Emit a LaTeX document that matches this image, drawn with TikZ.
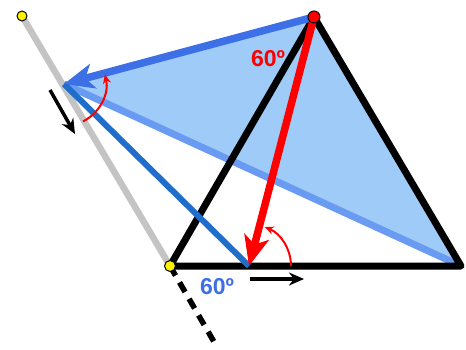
\documentclass[tikz,border=0pt]{standalone}
\usepackage{fontspec}
\setmainfont{Liberation Sans}
\usetikzlibrary{arrows.meta}
\definecolor{relleno}{HTML}{9ECBF8}
\definecolor{azul}{HTML}{3D6FE6}
\definecolor{azulclaro}{HTML}{6A9BF2}
\definecolor{azuloscuro}{HTML}{1F6ECC}
\definecolor{gris}{HTML}{C4C4C4}

\begin{document}
\begin{tikzpicture}[x=1pt,y=1pt,
    punto/.style={draw=black,line width=1pt},
    flechagrande/.style={line width=7.5pt,-{Stealth[length=30pt,width=25pt,inset=8pt]}},
    arco/.style={red,line width=2pt,-{Stealth[length=9pt,width=8pt]}},
    etiqueta/.style={font=\bfseries\fontsize{23}{23}\selectfont}]
      \useasboundingbox (0,0) rectangle (466,349);
      \coordinate (Y) at (22,333);
      \coordinate (A) at (170,83);
      \coordinate (B) at (461,83);
      \coordinate (C) at (314,332);
      \coordinate (P) at (64,265);
      \coordinate (Q) at (249,83);
      \coordinate (D) at (217,2);
      % linea gris y su prolongacion
      \draw[gris,line width=6.5pt] (Y) -- (A);
      \draw[black,line width=5.5pt,dash pattern=on 11pt off 8pt] (A) -- (D);
      % triangulo azul
      \fill[relleno] (C) -- (P) -- (B) -- cycle;
      \draw[azulclaro,line width=7pt] (P) -- (B);
      % triangulo equilatero
      \draw[black,line width=7pt,line join=round] (A) -- (B) -- (C) -- cycle;
      \draw[azuloscuro,line width=6pt] (P) -- (Q);
      \draw[azul,flechagrande] (C) -- (P);
      \draw[red,flechagrande] (C) -- (Q);
      % arcos
      \draw[arco] (Q) ++(0:42) arc[start angle=0,end angle=68,radius=42];
      \draw[arco] (P) ++(-63:42) arc[start angle=-63,end angle=13,radius=42];
      % flechas de movimiento
      \coordinate (m1) at (50,259);
      \coordinate (m2) at (75,215);
      \coordinate (n1) at (250,70);
      \coordinate (n2) at (304,70);
      \draw[line width=3.5pt,-{Stealth[length=15pt,width=13pt]}] (m1) -- (m2);
      \draw[line width=3.5pt,-{Stealth[length=15pt,width=13pt]}] (n1) -- (n2);
      % puntos
      \filldraw[punto,fill=yellow] (Y) circle (5);
      \filldraw[punto,fill=yellow] (A) circle (5.5);
      \filldraw[punto,fill=red] (C) circle (6);
      % etiquetas
      \node[etiqueta,red] (angc) at (268,290) {60º};
      \node[etiqueta,azul] (angq) at (217,62) {60º};
    \end{tikzpicture}
\end{document}
